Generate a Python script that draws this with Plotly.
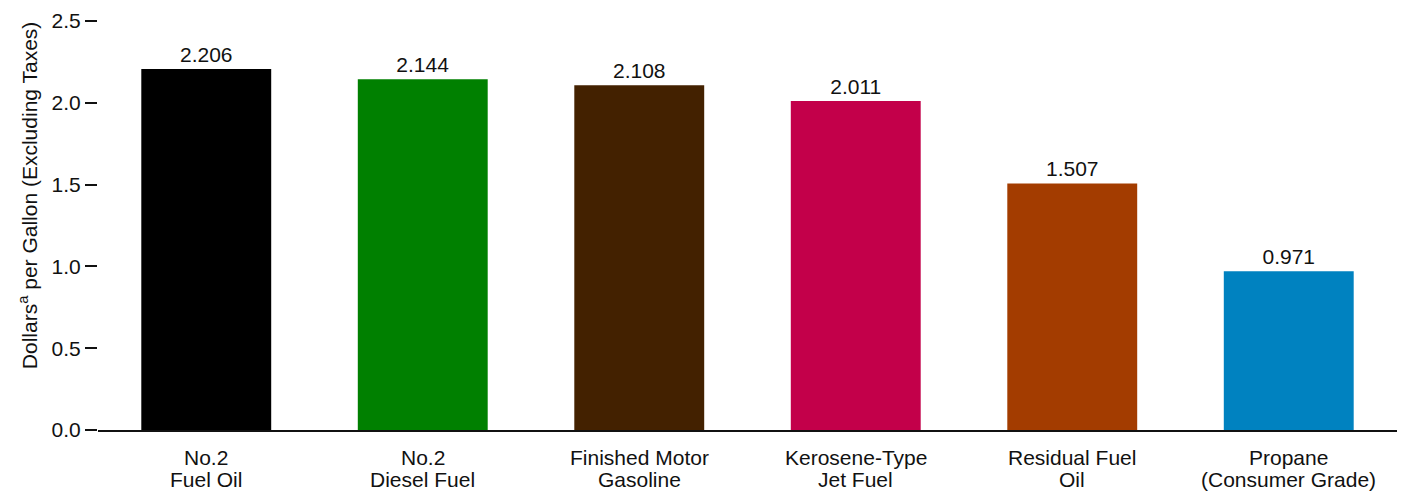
import plotly.graph_objects as go

categories = ["No.2 Fuel Oil", "No.2 Diesel Fuel", "Finished Motor Gasoline",
              "Kerosene-Type Jet Fuel", "Residual Fuel Oil", "Propane (Consumer Grade)"]
label_line1 = ["No.2", "No.2", "Finished Motor", "Kerosene-Type", "Residual Fuel", "Propane"]
label_line2 = ["Fuel Oil", "Diesel Fuel", "Gasoline", "Jet Fuel", "Oil", "(Consumer Grade)"]
prices = [2.206, 2.144, 2.108, 2.011, 1.507, 0.971]
bar_colors = ["#000000", "#008000", "#432100", "#c3004a", "#a33c00", "#0082c0"]
y_ticks = [0.0, 0.5, 1.0, 1.5, 2.0, 2.5]

font_family = "Liberation Sans, Arial, sans-serif"
text_color = "#111111"
fs = 21

fig = go.Figure(go.Bar(
    x=categories,
    y=prices,
    marker=dict(color=bar_colors, line=dict(width=0)),
    width=0.6,
    text=[f"{v:.3f}" for v in prices],
    textposition="outside",
    textfont=dict(size=fs, color=text_color, family=font_family),
    cliponaxis=False,
))

# two-line category labels with tight line spacing
for cat, l1, l2 in zip(categories, label_line1, label_line2):
    for line, shift in ((l1, -14), (l2, -36)):
        fig.add_annotation(
            x=cat, xref="x", y=0, yref="paper",
            text=line, showarrow=False,
            yanchor="top", yshift=shift,
            font=dict(size=fs, color=text_color, family=font_family),
        )

# y-axis title
fig.add_annotation(
    x=0, xref="paper", xshift=-70, xanchor="center",
    y=(430 - 195) / 411, yref="paper", yanchor="middle",
    text="Dollars<sup>a</sup> per Gallon (Excluding Taxes)",
    textangle=-90, showarrow=False,
    font=dict(size=fs, color=text_color, family=font_family),
)

fig.update_layout(
    width=1406, height=492,
    margin=dict(l=98, r=9, t=19, b=62),
    paper_bgcolor="white", plot_bgcolor="white",
    showlegend=False,
    font=dict(family=font_family, size=fs, color=text_color),
)
fig.update_xaxes(
    showline=True, linecolor=text_color, linewidth=2,
    showgrid=False, ticks="", showticklabels=False,
    range=[-0.5, 5.5],
)
fig.update_yaxes(
    range=[0, 2.5], tickvals=y_ticks, ticktext=[f"{v:.1f}" for v in y_ticks],
    showgrid=False, zeroline=False, showline=False,
    ticks="outside", ticklen=12, tickwidth=2, tickcolor=text_color,
    tickfont=dict(size=fs),
)

fig.write_html("out.html")
